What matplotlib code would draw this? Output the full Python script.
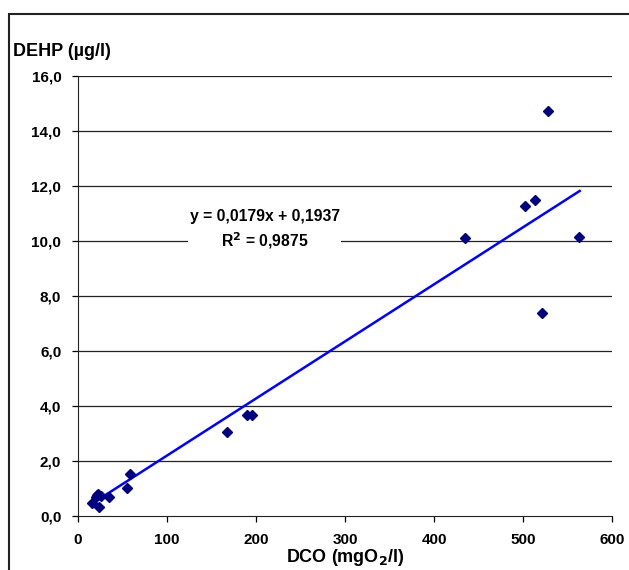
import matplotlib.pyplot as plt
from matplotlib.patches import Rectangle

plt.rcParams["font.family"] = ["Liberation Sans", "DejaVu Sans"]
plt.rcParams["font.weight"] = "bold"

# DCO (mgO2/l) vs DEHP (ug/l)
dco = [15.4, 21, 22.5, 23.6, 25.5, 20.6, 34.8, 55, 58.4,
       167, 190.3, 195,
       434.8, 502.6, 513, 521.7, 527.7, 563]
dehp = [0.46, 0.76, 0.79, 0.34, 0.73, 0.70, 0.70, 1.03, 1.52,
        3.05, 3.67, 3.67,
        10.10, 11.26, 11.50, 7.38, 14.72, 10.15]

# trend line as drawn (end points)
trend_x = [14.3, 563.7]
trend_y = [0.42, 11.82]

eq_text = "y = 0,0179x + 0,1937\nR$^2$ = 0,9875"

xticks = [0, 100, 200, 300, 400, 500, 600]
yticks = [0, 2, 4, 6, 8, 10, 12, 14, 16]

fig = plt.figure(figsize=(6.29, 5.7), dpi=100)
ax = fig.add_axes([0.124, 0.0947, 0.849, 0.772])

for y in yticks[1:]:
    ax.axhline(y, color="#222222", lw=0.9, zorder=1)

ax.plot(trend_x, trend_y, color="#0000FF", lw=1.8, zorder=2)
ax.plot(dco, dehp, "D", color="#000080", ms=5, mec="#000080", zorder=3)

ax.set_xlim(0, 600)
ax.set_ylim(0, 16)
ax.set_xticks(xticks)
ax.set_xticklabels([str(t) for t in xticks])
ax.set_yticks(yticks)
ax.set_yticklabels([f"{t:.1f}".replace(".", ",") for t in yticks])
ax.tick_params(direction="out", length=4, width=0.9, labelsize=11, pad=8)
for lab in ax.get_xticklabels() + ax.get_yticklabels():
    lab.set_fontweight("bold")

ax.spines["top"].set_visible(False)
ax.spines["right"].set_visible(False)
ax.spines["left"].set_color("#222222")
ax.spines["bottom"].set_color("#222222")

ax.text(210, 10.4, eq_text, ha="center", va="center", fontsize=11.3,
        fontweight="bold", linespacing=1.45, zorder=4,
        bbox=dict(facecolor="white", edgecolor="none", pad=1))

ax.set_xlabel("DCO (mgO$_2$/l)", fontsize=13, fontweight="bold", labelpad=0)
fig.text(13 / 629, 1 - 52 / 570, "DEHP (µg/l)", ha="left", va="center",
         fontsize=13, fontweight="bold")

fig.patches.append(Rectangle((9 / 629, -0.05), 1.0, 1 - 14 / 570 + 0.05,
                             transform=fig.transFigure, fill=False,
                             edgecolor="#222222", lw=1.5))

fig.savefig("out.png", dpi=100)
